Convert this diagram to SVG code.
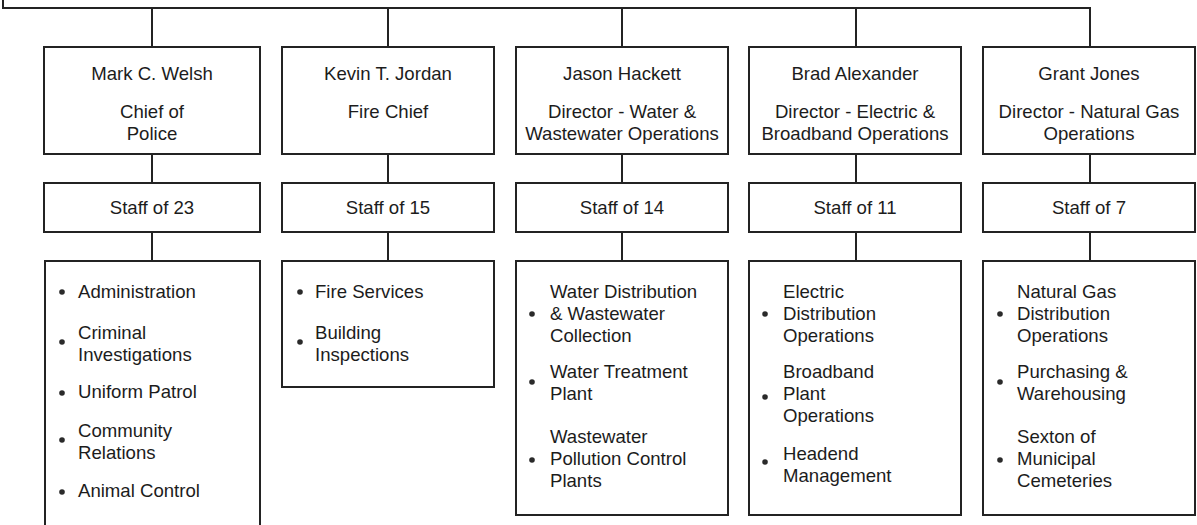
<svg xmlns="http://www.w3.org/2000/svg" width="1197" height="525" viewBox="0 0 1197 525">
  <style>
    .box { fill: #ffffff; stroke: #232323; stroke-width: 2; }
    .wire { fill: none; stroke: #232323; stroke-width: 2; }
    text { font-family: "Liberation Sans", Arial, sans-serif; font-size: 18.6px; fill: #1c1c1c; }
    .c { text-anchor: middle; }
    .dot { fill: #2a2a2a; }
  </style>
  <rect width="1197" height="525" fill="#ffffff"/>

  <!-- connectors -->
  <g id="connectors">
    <polyline class="wire" points="3,0 3,8 1090,8 1090,47"/>
    <line class="wire" x1="152" y1="8" x2="152" y2="47"/>
    <line class="wire" x1="388" y1="8" x2="388" y2="47"/>
    <line class="wire" x1="622" y1="8" x2="622" y2="47"/>
    <line class="wire" x1="856" y1="8" x2="856" y2="47"/>
    <!-- head to staff -->
    <line class="wire" x1="152" y1="154" x2="152" y2="183"/>
    <line class="wire" x1="388" y1="154" x2="388" y2="183"/>
    <line class="wire" x1="622" y1="154" x2="622" y2="183"/>
    <line class="wire" x1="856" y1="154" x2="856" y2="183"/>
    <line class="wire" x1="1090" y1="154" x2="1090" y2="183"/>
    <!-- staff to duties -->
    <line class="wire" x1="152" y1="232" x2="152" y2="261"/>
    <line class="wire" x1="388" y1="232" x2="388" y2="261"/>
    <line class="wire" x1="622" y1="232" x2="622" y2="261"/>
    <line class="wire" x1="856" y1="232" x2="856" y2="261"/>
    <line class="wire" x1="1090" y1="232" x2="1090" y2="261"/>
  </g>

  <!-- Police -->
  <g id="head-police">
    <rect class="box" x="44" y="47" width="216" height="107"/>
    <text class="c" x="152" y="80">Mark C. Welsh</text>
    <text class="c" x="152" y="118">Chief of</text>
    <text class="c" x="152" y="140">Police</text>
  </g>
  <g id="staff-police">
    <rect class="box" x="44" y="183" width="216" height="49"/>
    <text class="c" x="152" y="214">Staff of 23</text>
  </g>
  <g id="duties-police">
    <rect class="box" x="45" y="261" width="215" height="280"/>
    <circle class="dot" cx="62" cy="292" r="2.8"/>
    <text x="78" y="298">Administration</text>
    <circle class="dot" cx="62" cy="342" r="2.8"/>
    <text x="78" y="339">Criminal</text>
    <text x="78" y="361">Investigations</text>
    <circle class="dot" cx="62" cy="393" r="2.8"/>
    <text x="78" y="398">Uniform Patrol</text>
    <circle class="dot" cx="62" cy="440" r="2.8"/>
    <text x="78" y="437">Community</text>
    <text x="78" y="459">Relations</text>
    <circle class="dot" cx="62" cy="492" r="2.8"/>
    <text x="78" y="497">Animal Control</text>
  </g>

  <!-- Fire -->
  <g id="head-fire">
    <rect class="box" x="282" y="47" width="212" height="107"/>
    <text class="c" x="388" y="80">Kevin T. Jordan</text>
    <text class="c" x="388" y="118">Fire Chief</text>
  </g>
  <g id="staff-fire">
    <rect class="box" x="282" y="183" width="212" height="49"/>
    <text class="c" x="388" y="214">Staff of 15</text>
  </g>
  <g id="duties-fire">
    <rect class="box" x="282" y="261" width="212" height="126"/>
    <circle class="dot" cx="300" cy="292" r="2.8"/>
    <text x="315" y="298">Fire Services</text>
    <circle class="dot" cx="300" cy="342" r="2.8"/>
    <text x="315" y="339">Building</text>
    <text x="315" y="361">Inspections</text>
  </g>

  <!-- Water -->
  <g id="head-water">
    <rect class="box" x="516" y="47" width="212" height="107"/>
    <text class="c" x="622" y="80">Jason Hackett</text>
    <text class="c" x="622" y="118">Director - Water &amp;</text>
    <text class="c" x="622" y="140">Wastewater Operations</text>
  </g>
  <g id="staff-water">
    <rect class="box" x="516" y="183" width="212" height="49"/>
    <text class="c" x="622" y="214">Staff of 14</text>
  </g>
  <g id="duties-water">
    <rect class="box" x="516" y="261" width="212" height="254"/>
    <circle class="dot" cx="532" cy="314" r="2.8"/>
    <text x="550" y="298">Water Distribution</text>
    <text x="550" y="320">&amp; Wastewater</text>
    <text x="550" y="342">Collection</text>
    <circle class="dot" cx="532" cy="382" r="2.8"/>
    <text x="550" y="378">Water Treatment</text>
    <text x="550" y="400">Plant</text>
    <circle class="dot" cx="532" cy="460" r="2.8"/>
    <text x="550" y="443">Wastewater</text>
    <text x="550" y="465">Pollution Control</text>
    <text x="550" y="487">Plants</text>
  </g>

  <!-- Electric -->
  <g id="head-electric">
    <rect class="box" x="749" y="47" width="212" height="107"/>
    <text class="c" x="855" y="80">Brad Alexander</text>
    <text class="c" x="855" y="118">Director - Electric &amp;</text>
    <text class="c" x="855" y="140">Broadband Operations</text>
  </g>
  <g id="staff-electric">
    <rect class="box" x="749" y="183" width="212" height="49"/>
    <text class="c" x="855" y="214">Staff of 11</text>
  </g>
  <g id="duties-electric">
    <rect class="box" x="749" y="261" width="212" height="254"/>
    <circle class="dot" cx="765" cy="314" r="2.8"/>
    <text x="783" y="298">Electric</text>
    <text x="783" y="320">Distribution</text>
    <text x="783" y="342">Operations</text>
    <circle class="dot" cx="765" cy="397" r="2.8"/>
    <text x="783" y="378">Broadband</text>
    <text x="783" y="400">Plant</text>
    <text x="783" y="422">Operations</text>
    <circle class="dot" cx="765" cy="462" r="2.8"/>
    <text x="783" y="460">Headend</text>
    <text x="783" y="482">Management</text>
  </g>

  <!-- Natural gas -->
  <g id="head-gas">
    <rect class="box" x="983" y="47" width="212" height="107"/>
    <text class="c" x="1089" y="80">Grant Jones</text>
    <text class="c" x="1089" y="118">Director - Natural Gas</text>
    <text class="c" x="1089" y="140">Operations</text>
  </g>
  <g id="staff-gas">
    <rect class="box" x="983" y="183" width="212" height="49"/>
    <text class="c" x="1089" y="214">Staff of 7</text>
  </g>
  <g id="duties-gas">
    <rect class="box" x="983" y="261" width="212" height="254"/>
    <circle class="dot" cx="1000" cy="314" r="2.8"/>
    <text x="1017" y="298">Natural Gas</text>
    <text x="1017" y="320">Distribution</text>
    <text x="1017" y="342">Operations</text>
    <circle class="dot" cx="1000" cy="382" r="2.8"/>
    <text x="1017" y="378">Purchasing &amp;</text>
    <text x="1017" y="400">Warehousing</text>
    <circle class="dot" cx="1000" cy="460" r="2.8"/>
    <text x="1017" y="443">Sexton of</text>
    <text x="1017" y="465">Municipal</text>
    <text x="1017" y="487">Cemeteries</text>
  </g>
</svg>
